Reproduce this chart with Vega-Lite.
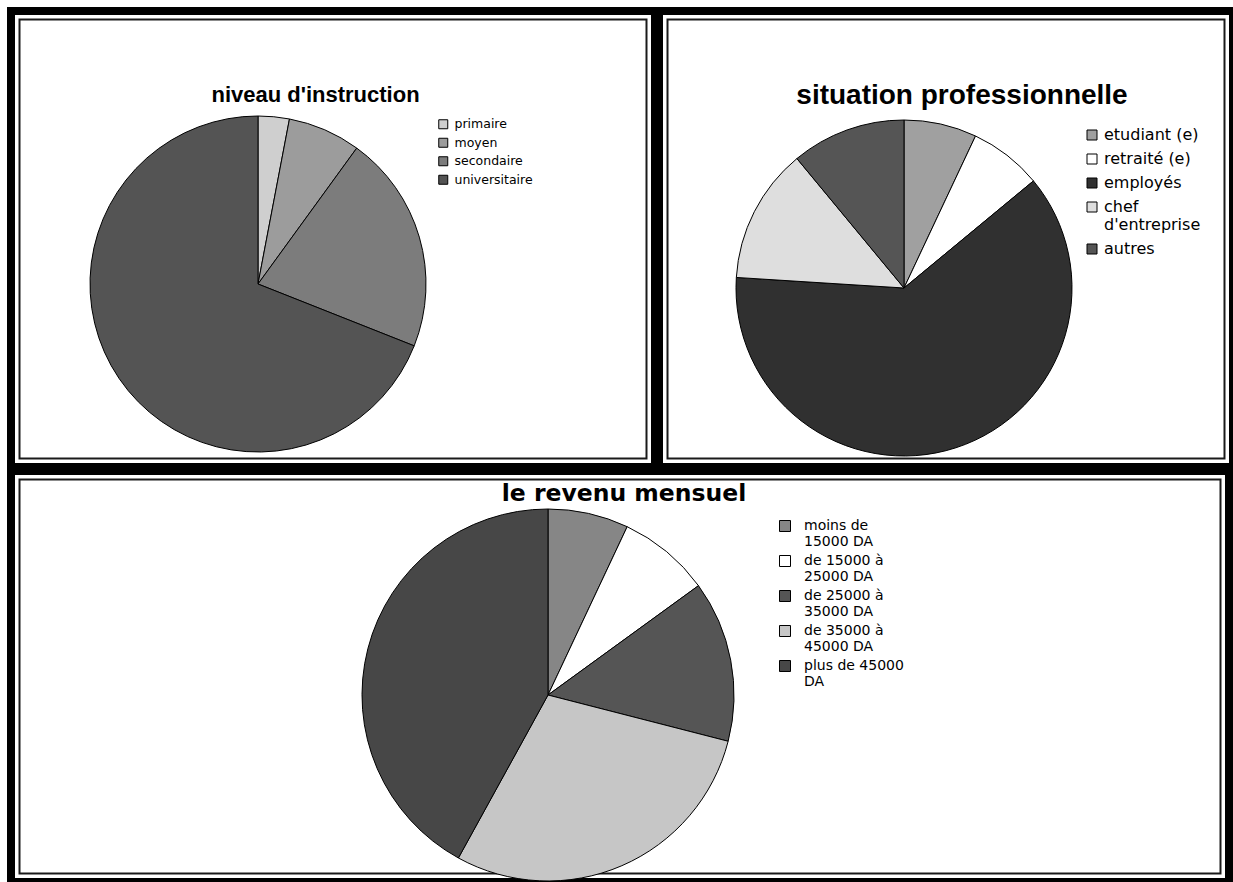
{
  "$schema": "https://vega.github.io/schema/vega-lite/v6.json",
  "background": "#ffffff",
  "padding": {"left": 7, "top": 7, "right": 0, "bottom": 0},
  "config": {
    "view": {"stroke": null},
    "font": "Liberation Sans"
  },
  "spacing": -8,
  "resolve": {"scale": {"color": "independent"}, "legend": {"color": "independent"}},
  "vconcat": [
    {
      "spacing": -8,
      "resolve": {"scale": {"color": "independent"}, "legend": {"color": "independent"}},
      "hconcat": [
        {
          "width": 644,
          "height": 456,
          "title": {"text": "niveau d'instruction", "font": "Liberation Sans", "fontSize": 22, "fontWeight": "bold", "color": "#000000", "anchor": "middle", "frame": "group", "baseline": "alphabetic", "offset": -117, "dx": -17.5},
          "layer": [
            {"data": {"values": [{}]}, "mark": {"type": "rect", "x": 0, "x2": "width", "y": 0, "y2": "height", "fill": "#ffffff", "stroke": "#1a1a1a", "strokeWidth": 19, "clip": true}},
            {"data": {"values": [{}]}, "mark": {"type": "rect", "x": 0, "x2": "width", "y": 0, "y2": "height", "fill": "#ffffff", "fillOpacity": 0, "stroke": "#ffffff", "strokeWidth": 15, "clip": true}},
            {"data": {"values": [{}]}, "mark": {"type": "rect", "x": 0, "x2": "width", "y": 0, "y2": "height", "fill": "#ffffff", "fillOpacity": 0, "stroke": "#000000", "strokeWidth": 8}},
            {
              "data": {"values": [
                {"niveau": "primaire", "part": 3, "rang": 1},
                {"niveau": "moyen", "part": 7, "rang": 2},
                {"niveau": "secondaire", "part": 21, "rang": 3},
                {"niveau": "universitaire", "part": 69, "rang": 4}
              ]},
              "mark": {"type": "arc", "radius": 168, "x": 247, "y": 273, "stroke": "#000000", "strokeWidth": 1},
              "encoding": {
                "theta": {"field": "part", "type": "quantitative", "stack": true},
                "order": {"field": "rang", "type": "quantitative"},
                "color": {
                  "field": "niveau",
                  "type": "nominal",
                  "scale": {"domain": ["primaire", "moyen", "secondaire", "universitaire"], "range": ["#cfcfcf", "#9c9c9c", "#7c7c7c", "#545454"]},
                  "legend": {"title": null, "orient": "none", "legendX": 426, "legendY": 107, "padding": 0, "symbolType": "square", "symbolSize": 81, "symbolStrokeColor": "#000000", "symbolStrokeWidth": 1, "labelFont": "DejaVu Sans", "labelFontSize": 12.5, "labelColor": "#000000", "labelOffset": 5, "rowPadding": 4.5}
                }
              }
            }
          ]
        },
        {
          "width": 574,
          "height": 456,
          "title": {"text": "situation professionnelle", "font": "Liberation Sans", "fontSize": 28, "fontWeight": "bold", "color": "#000000", "anchor": "middle", "frame": "group", "baseline": "alphabetic", "offset": -125, "dx": 16},
          "layer": [
            {"data": {"values": [{}]}, "mark": {"type": "rect", "x": 0, "x2": "width", "y": 0, "y2": "height", "fill": "#ffffff", "stroke": "#1a1a1a", "strokeWidth": 19, "clip": true}},
            {"data": {"values": [{}]}, "mark": {"type": "rect", "x": 0, "x2": "width", "y": 0, "y2": "height", "fill": "#ffffff", "fillOpacity": 0, "stroke": "#ffffff", "strokeWidth": 15, "clip": true}},
            {"data": {"values": [{}]}, "mark": {"type": "rect", "x": 0, "x2": "width", "y": 0, "y2": "height", "fill": "#ffffff", "fillOpacity": 0, "stroke": "#000000", "strokeWidth": 8}},
            {
              "data": {"values": [
                {"situation": "etudiant (e)", "part": 7, "rang": 1},
                {"situation": "retraité (e)", "part": 7, "rang": 2},
                {"situation": "employés", "part": 62, "rang": 3},
                {"situation": "chef\nd'entreprise", "part": 13, "rang": 4},
                {"situation": "autres", "part": 11, "rang": 5}
              ]},
              "mark": {"type": "arc", "radius": 168, "x": 245, "y": 277, "stroke": "#000000", "strokeWidth": 1},
              "encoding": {
                "theta": {"field": "part", "type": "quantitative", "stack": true},
                "order": {"field": "rang", "type": "quantitative"},
                "color": {
                  "field": "situation",
                  "type": "nominal",
                  "scale": {"domain": ["etudiant (e)", "retraité (e)", "employés", "chef\nd'entreprise", "autres"], "range": ["#a0a0a0", "#ffffff", "#303030", "#dedede", "#555555"]},
                  "legend": {"title": null, "orient": "none", "legendX": 425, "legendY": 116, "padding": 0, "symbolType": "square", "symbolSize": 100, "symbolStrokeColor": "#000000", "symbolStrokeWidth": 1, "labelFont": "DejaVu Sans", "labelFontSize": 16, "labelColor": "#000000", "labelOffset": 4, "rowPadding": 8, "labelExpr": "split(datum.label, '\\n')"}
                }
              }
            }
          ]
        }
      ]
    },
    {
      "width": 1218,
      "height": 411,
      "title": {"text": "le revenu mensuel", "font": "DejaVu Sans", "fontSize": 23.5, "fontWeight": "bold", "color": "#000000", "anchor": "middle", "frame": "group", "baseline": "alphabetic", "offset": -57, "dx": 4},
      "layer": [
        {"data": {"values": [{}]}, "mark": {"type": "rect", "x": 0, "x2": "width", "y": 0, "y2": "height", "fill": "#ffffff", "stroke": "#1a1a1a", "strokeWidth": 19, "clip": true}},
        {"data": {"values": [{}]}, "mark": {"type": "rect", "x": 0, "x2": "width", "y": 0, "y2": "height", "fill": "#ffffff", "fillOpacity": 0, "stroke": "#ffffff", "strokeWidth": 15, "clip": true}},
        {"data": {"values": [{}]}, "mark": {"type": "rect", "x": 0, "x2": "width", "y": 0, "y2": "height", "fill": "#ffffff", "fillOpacity": 0, "stroke": "#000000", "strokeWidth": 8}},
        {
          "data": {"values": [
            {"revenu": "moins de\n15000 DA", "part": 7, "rang": 1},
            {"revenu": "de 15000 à\n25000 DA", "part": 8, "rang": 2},
            {"revenu": "de 25000 à\n35000 DA", "part": 14, "rang": 3},
            {"revenu": "de 35000 à\n45000 DA", "part": 29, "rang": 4},
            {"revenu": "plus de 45000\nDA", "part": 42, "rang": 5}
          ]},
          "mark": {"type": "arc", "radius": 186, "x": 537, "y": 224, "stroke": "#000000", "strokeWidth": 1},
          "encoding": {
            "theta": {"field": "part", "type": "quantitative", "stack": true},
            "order": {"field": "rang", "type": "quantitative"},
            "color": {
              "field": "revenu",
              "type": "nominal",
              "scale": {"domain": ["moins de\n15000 DA", "de 15000 à\n25000 DA", "de 25000 à\n35000 DA", "de 35000 à\n45000 DA", "plus de 45000\nDA"], "range": ["#868686", "#ffffff", "#555555", "#c6c6c6", "#474747"]},
              "legend": {"title": null, "orient": "none", "legendX": 767, "legendY": 48, "padding": 0, "symbolType": "square", "symbolSize": 121, "symbolStrokeColor": "#000000", "symbolStrokeWidth": 1, "labelFont": "DejaVu Sans", "labelFontSize": 14, "labelColor": "#000000", "labelOffset": 12, "rowPadding": 4, "labelExpr": "split(datum.label, '\\n')", "encode": {"labels": {"update": {"lineHeight": {"value": 16}}}}}
            }
          }
        }
      ]
    }
  ]
}
